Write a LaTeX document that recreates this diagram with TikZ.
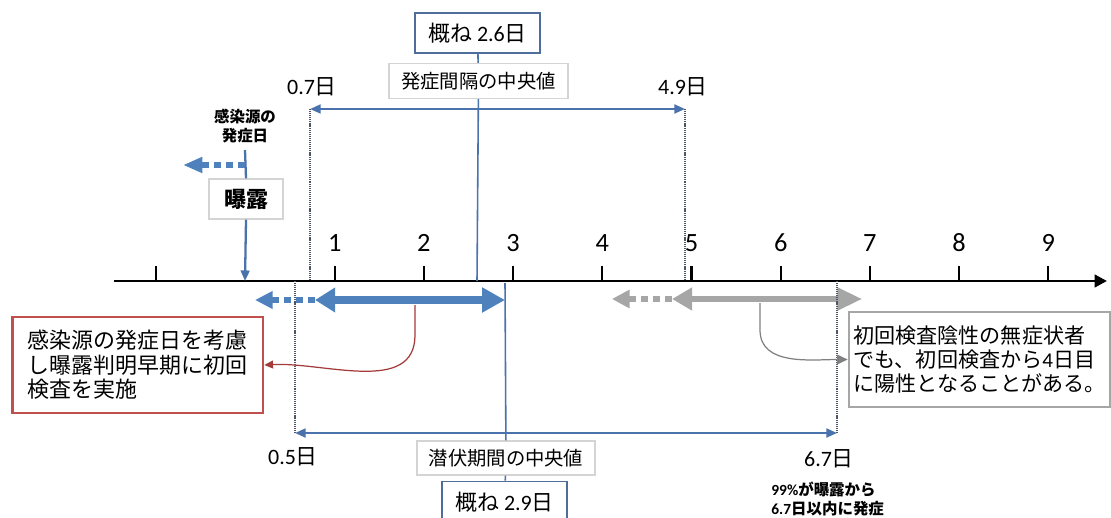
\documentclass[tikz,border=0pt]{standalone}
\usepackage{fontspec}
\setmainfont{Carlito}
\newfontfamily\cjk{Noto Sans CJK JP}
\usetikzlibrary{arrows.meta}

\definecolor{lineblue}{HTML}{4A72AC}
\definecolor{fatblue}{HTML}{4F81BD}
\definecolor{boxblue}{HTML}{4F6D9B}
\definecolor{lightframe}{HTML}{D4D4D4}
\definecolor{framered}{HTML}{C0504D}
\definecolor{linkred}{HTML}{A33B3B}
\definecolor{fatgray}{HTML}{A6A6A6}
\definecolor{dotgray}{HTML}{4D5566}

\tikzset{
  daynum/.style={font=\fontsize{15}{18}\selectfont, inner sep=0pt},
  daylabel/.style={font=\fontsize{12.5}{14}\selectfont, inner sep=0pt},
  medianbox/.style={draw=boxblue, line width=1pt, fill=white, inner sep=0pt,
    minimum width=2.5cm, minimum height=0.8cm, font=\cjk\fontsize{12.5}{14}\selectfont},
  labelbox/.style={draw=lightframe, line width=0.8pt, fill=white, inner sep=0pt,
    minimum width=3.58cm, minimum height=0.7cm, font=\cjk\fontsize{11}{13}\selectfont},
  notebox/.style={fill=white, line width=1.5pt, inner sep=0pt, align=left,
    minimum height=1.92cm, font=\cjk\fontsize{12.5}{14}\selectfont},
  smallbold/.style={font=\cjk\bfseries\fontsize{8.8}{11.3}\selectfont, inner sep=0pt},
  thinarrow/.style={lineblue, line width=1.3pt, -{Triangle[length=6pt,width=5pt]}},
  dotline/.style={dotgray, line width=0.6pt, dash pattern=on 0.6pt off 0.5pt},
  fatarrow/.style={line width=4pt},
  dasharrow/.style={line width=3.4pt, dash pattern=on 4pt off 2.8pt}
}

\begin{document}
\begin{tikzpicture}[x=0.02cm, y=-0.02cm]
  \useasboundingbox (0,0) rectangle (1111,517);

  % time axis
  \draw[line width=1.7pt, -{Triangle[length=7pt,width=7pt]}] (114,281) -- (1107,281);
  \foreach \d in {-1,1,2,3,4,5,6,7,8,9}
    \draw[line width=1.3pt] ({245.5+89.2*\d},281) -- ({245.5+89.2*\d},266);
  \foreach \d in {1,...,9}
    \node[daynum] (n\d) at ({245.5+89.2*\d},243) {\d};

  % points on the axis
  \coordinate (c0) at (245,281);
  \coordinate (c26) at (477,281);
  \coordinate (c29) at (505,283);
  \coordinate (t07) at (310,109);
  \coordinate (t49) at (685,109);
  \coordinate (b05) at (295,433);
  \coordinate (b67) at (837,433);

  % exposure
  \node[smallbold, align=center] (src) at (245,126) {感染源の\\発症日};
  \node[draw=lightframe, line width=0.8pt, fill=white, minimum width=1.48cm, minimum height=0.8cm,
        inner sep=0pt, font=\cjk\bfseries\fontsize{12.5}{14}\selectfont] (expo) at (246,199) {曝露};
  \coordinate (s0) at (245,150);
  \draw[lineblue, line width=1.3pt] (s0) -- (expo.north);
  \draw[thinarrow] (expo.south) -- (c0);
  \coordinate (s1) at (245,165);
  \coordinate (s2) at (183,165);
  \draw[fatblue, dasharrow, -{Triangle[length=11pt,width=8.5pt]}] (s1) -- (s2);

  % serial interval
  \node[medianbox] (med26) at (477.5,33) {概ね {\rmfamily 2.6}日};
  \node[labelbox] (lab26) at (478.5,81) {発症間隔の中央値};
  \draw[lineblue, line width=0.9pt] (med26) -- (lab26);
  \draw[lineblue, line width=0.9pt] (lab26) -- (c26);
  \draw[thinarrow, {Triangle[length=6pt,width=5pt]}-{Triangle[length=6pt,width=5pt]}] (t07) -- (t49);
  \draw[dotline] (t07) -- (t07 |- c0);
  \draw[dotline] (t49) -- (t49 |- c0);
  \node[daylabel] (l07) at (312,87) {0.7{\cjk 日}};
  \node[daylabel] (l49) at (683,87) {4.9{\cjk 日}};

  % thick arrows under the axis
  \coordinate (a1) at (315,300);
  \coordinate (a2) at (505,300);
  \coordinate (a3) at (255,300);
  \draw[fatblue, dasharrow, -{Triangle[length=10pt,width=9.5pt]}] (a1) -- (a3);
  \draw[fatblue, fatarrow, {Triangle[length=11.5pt,width=13.5pt]}-{Triangle[length=13pt,width=13.5pt]}] (a1) -- (a2);
  \coordinate (g1) at (672,299);
  \coordinate (g2) at (862,299);
  \coordinate (g3) at (612,299);
  \draw[fatgray, dasharrow, line width=3pt, -{Triangle[length=10pt,width=10pt]}] (g1) -- (g3);
  \draw[fatgray, fatarrow, line width=3pt, {Triangle[length=11.5pt,width=12.5pt]}-{Triangle[length=14pt,width=12.5pt]}] (g1) -- (g2);

  % incubation period
  \node[labelbox, minimum width=3.56cm, minimum height=0.68cm] (lat29) at (506,458) {潜伏期間の中央値};
  \node[medianbox, minimum height=0.84cm] (med29) at (504.5,502.5) {概ね {\rmfamily 2.9}日};
  \draw[lineblue, line width=0.9pt] (c29) -- (lat29);
  \draw[lineblue, line width=0.9pt] (lat29) -- (med29);
  \draw[thinarrow, {Triangle[length=6pt,width=5pt]}-{Triangle[length=6pt,width=5pt]}] (b05) -- (b67);
  \draw[dotline] (b05) -- (b05 |- c0);
  \draw[dotline] (b67) -- (b67 |- c0);
  \node[daylabel] (l05) at (293,457) {0.5{\cjk 日}};
  \node[daylabel] (l67) at (829,459) {6.7{\cjk 日}};
  \node[smallbold, align=left, anchor=west] (pct) at (771,499)
    {{\rmfamily 99\%}が曝露から\\{\rmfamily 6.7}日以内に発症};

  % notes
  \node[notebox, draw=framered, minimum width=5.01cm] (redbox) at (137.75,365)
    {感染源の発症日を考慮\\し曝露判明早期に初回\\検査を実施};
  \node[notebox, draw=gray!70, minimum width=5.22cm, minimum height=1.9cm,
        font=\cjk\fontsize{12}{13.6}\selectfont] (graybox) at (979.5,359.5)
    {初回検査陰性の無症状者\\でも、初回検査から{\rmfamily 4}日目\\に陽性となることがある。};
  \coordinate (r0) at (415,305);
  \draw[linkred, line width=0.7pt, -{Triangle[length=5pt,width=4.5pt]}]
    (r0) -- ++(0,30) to[out=-90, in=3] (redbox.east);
  \coordinate (q0) at (760,303);
  \draw[gray, line width=0.7pt, -{Triangle[length=6pt,width=5.5pt]}]
    (q0) -- ++(0,27) to[out=-90, in=180] (graybox.west);
\end{tikzpicture}
\end{document}
